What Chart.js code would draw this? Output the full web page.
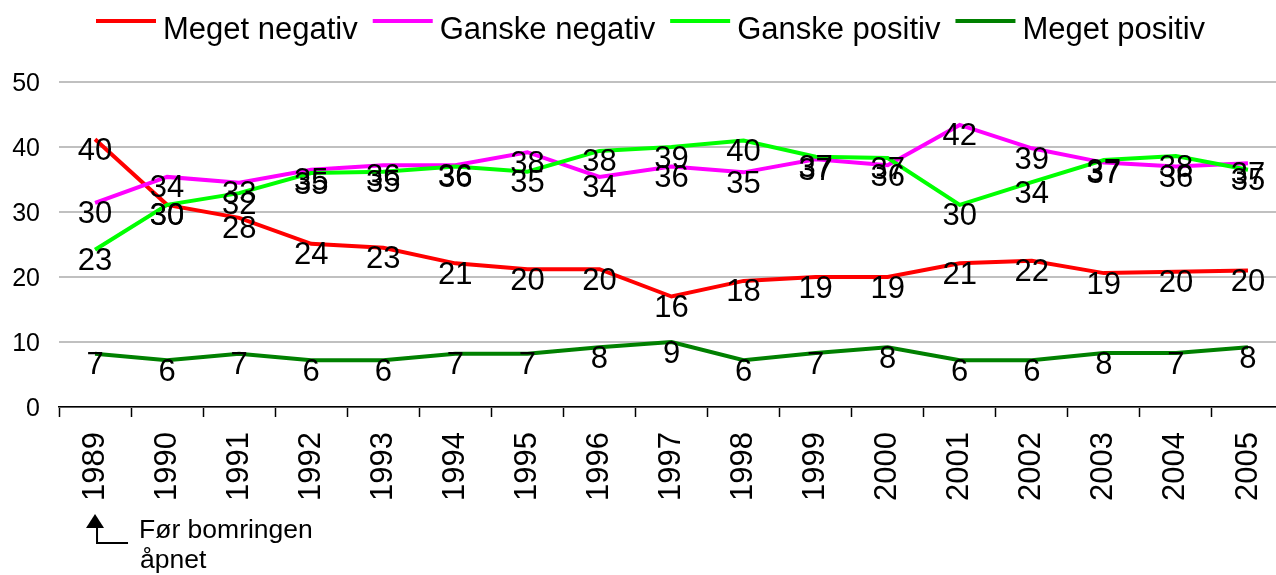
<!doctype html>
<html lang="no">

<head>
    <meta charset="utf-8">
    <title>Holdning til bomringen 1989-2005</title>
    <script src="https://cdn.jsdelivr.net/npm/chart.js"></script>
    <style>
        html,
        body {
            margin: 0;
            padding: 0;
            background: #fff;
            overflow: hidden;
        }
    </style>
</head>

<body>
    <canvas id="myChart" width="1284" height="575"></canvas>

    <script>
        // categories
        const years = ['1989', '1990', '1991', '1992', '1993', '1994', '1995', '1996', '1997',
            '1998', '1999', '2000', '2001', '2002', '2003', '2004', '2005'];

        // series values (as plotted) and the value labels printed next to them
        const megetNegativ = [41.2, 31.1, 29.1, 25.1, 24.5, 22.1, 21.2, 21.2, 17.0, 19.4, 20.0, 20.0, 22.1, 22.5, 20.6, 20.8, 21.0];
        const megetNegativLabels = [40, 30, 28, 24, 23, 21, 20, 20, 16, 18, 19, 19, 21, 22, 19, 20, 20];

        const ganskeNegativ = [31.4, 35.4, 34.5, 36.5, 37.2, 37.2, 39.2, 35.4, 37.0, 36.1, 38.1, 37.2, 43.4, 39.8, 37.6, 37.0, 37.5];
        const ganskeNegativLabels = [30, 34, 33, 35, 36, 36, 38, 34, 36, 35, 37, 36, 42, 39, 37, 36, 37];

        const ganskePositiv = [24.2, 31.1, 32.9, 36.0, 36.2, 37.0, 36.2, 39.4, 40.0, 41.0, 38.5, 38.3, 31.1, 34.6, 38.0, 38.6, 36.5];
        const ganskePositivLabels = [23, 30, 32, 35, 35, 36, 35, 38, 39, 40, 37, 37, 30, 34, 37, 38, 35];

        const megetPositiv = [8.2, 7.2, 8.2, 7.2, 7.2, 8.2, 8.2, 9.2, 10.0, 7.2, 8.3, 9.2, 7.2, 7.2, 8.3, 8.3, 9.2];
        const megetPositivLabels = [7, 6, 7, 6, 6, 7, 7, 8, 9, 6, 7, 8, 6, 6, 8, 7, 8];

        // y axis ticks
        const yTicks = [0, 10, 20, 30, 40, 50];

        const seriesNames = ['Meget negativ', 'Ganske negativ', 'Ganske positiv', 'Meget positiv'];
        const seriesColors = ['#ff0000', '#ff00ff', '#00ff00', '#008000'];
        const seriesValues = [megetNegativ, ganskeNegativ, ganskePositiv, megetPositiv];
        const seriesLabels = [megetNegativLabels, ganskeNegativLabels, ganskePositivLabels, megetPositivLabels];

        const note = ['Før bomringen', 'åpnet'];

        const FONT = '"Liberation Sans", Arial, sans-serif';

        //---------------------------------------------
        // value labels under every point
        //---------------------------------------------
        const valueLabels = {
            id: 'valueLabels',
            afterDatasetsDraw(chart) {
                const ctx = chart.ctx;
                ctx.save();
                ctx.font = '31px ' + FONT;
                ctx.fillStyle = '#000';
                ctx.textAlign = 'center';
                ctx.textBaseline = 'alphabetic';
                chart.data.datasets.forEach(function (ds, i) {
                    const meta = chart.getDatasetMeta(i);
                    meta.data.forEach(function (pt, j) {
                        ctx.fillText(String(seriesLabels[i][j]), pt.x, pt.y + 20.5);
                    });
                });
                ctx.restore();
            }
        };

        //---------------------------------------------
        // legend on top (line sample + text)
        //---------------------------------------------
        const topLegend = {
            id: 'topLegend',
            afterDraw(chart) {
                const ctx = chart.ctx;
                ctx.save();
                ctx.font = '31px ' + FONT;
                ctx.textBaseline = 'alphabetic';
                ctx.textAlign = 'left';
                let x = 96;
                seriesNames.forEach(function (name, i) {
                    ctx.fillStyle = seriesColors[i];
                    ctx.fillRect(x, 19, 60, 4);
                    x += 67;
                    ctx.fillStyle = '#000';
                    ctx.fillText(name, x, 39);
                    x += ctx.measureText(name).width + 15;
                });
                ctx.restore();
            }
        };

        //---------------------------------------------
        // arrow + note under 1989
        //---------------------------------------------
        const noteArrow = {
            id: 'noteArrow',
            afterDraw(chart) {
                const ctx = chart.ctx;
                const x0 = chart.scales.x.getPixelForValue(0);
                ctx.save();
                ctx.fillStyle = '#000';
                ctx.strokeStyle = '#000';
                ctx.lineWidth = 2;
                ctx.beginPath();
                ctx.moveTo(x0, 514);
                ctx.lineTo(x0 + 9, 528);
                ctx.lineTo(x0 - 9, 528);
                ctx.closePath();
                ctx.fill();
                ctx.beginPath();
                ctx.moveTo(x0 + 2, 527);
                ctx.lineTo(x0 + 2, 543);
                ctx.lineTo(x0 + 33, 543);
                ctx.stroke();
                ctx.font = '26.5px ' + FONT;
                ctx.textAlign = 'left';
                ctx.fillText(note[0], x0 + 44, 538);
                ctx.fillText(note[1], x0 + 45, 568);
                ctx.restore();
            }
        };

        const datasets = seriesNames.map(function (name, i) {
            return {
                label: name,
                data: seriesValues[i],
                borderColor: seriesColors[i],
                backgroundColor: seriesColors[i],
                borderWidth: 4,
                pointRadius: 0,
                tension: 0,
                fill: false,
                order: seriesNames.length - i
            };
        });

        const config = {
            type: 'line',
            data: {
                labels: years,
                datasets: datasets
            },
            options: {
                responsive: false,
                animation: false,
                layout: {
                    padding: { top: 82, left: 0, right: 0, bottom: 0 }
                },
                plugins: {
                    legend: { display: false },
                    tooltip: { enabled: false }
                },
                scales: {
                    x: {
                        offset: true,
                        grid: {
                            offset: true,
                            drawOnChartArea: false,
                            drawTicks: true,
                            tickLength: 10,
                            tickWidth: 1.5,
                            tickColor: '#000'
                        },
                        border: { display: true, color: '#000', width: 1.5 },
                        ticks: {
                            color: '#000',
                            font: { family: FONT, size: 31 },
                            minRotation: 90,
                            maxRotation: 90,
                            autoSkip: false,
                            padding: 15
                        },
                        afterFit: function (scale) {
                            scale.height = 168;
                            scale.paddingLeft = 0;
                            scale.paddingRight = 0;
                        }
                    },
                    y: {
                        min: yTicks[0],
                        max: yTicks[yTicks.length - 1],
                        afterBuildTicks: function (scale) {
                            scale.ticks = yTicks.map(function (v) { return { value: v }; });
                        },
                        grid: {
                            color: '#c0c0c0',
                            lineWidth: 2,
                            drawTicks: false
                        },
                        border: { display: false },
                        ticks: {
                            color: '#000',
                            font: { family: FONT, size: 25 },
                            padding: 19,
                            labelOffset: 2
                        },
                        afterFit: function (scale) {
                            scale.width = 59;
                        }
                    }
                }
            },
            plugins: [valueLabels, topLegend, noteArrow]
        };

        const myChart = new Chart(document.getElementById('myChart'), config);
    </script>
</body>

</html>
